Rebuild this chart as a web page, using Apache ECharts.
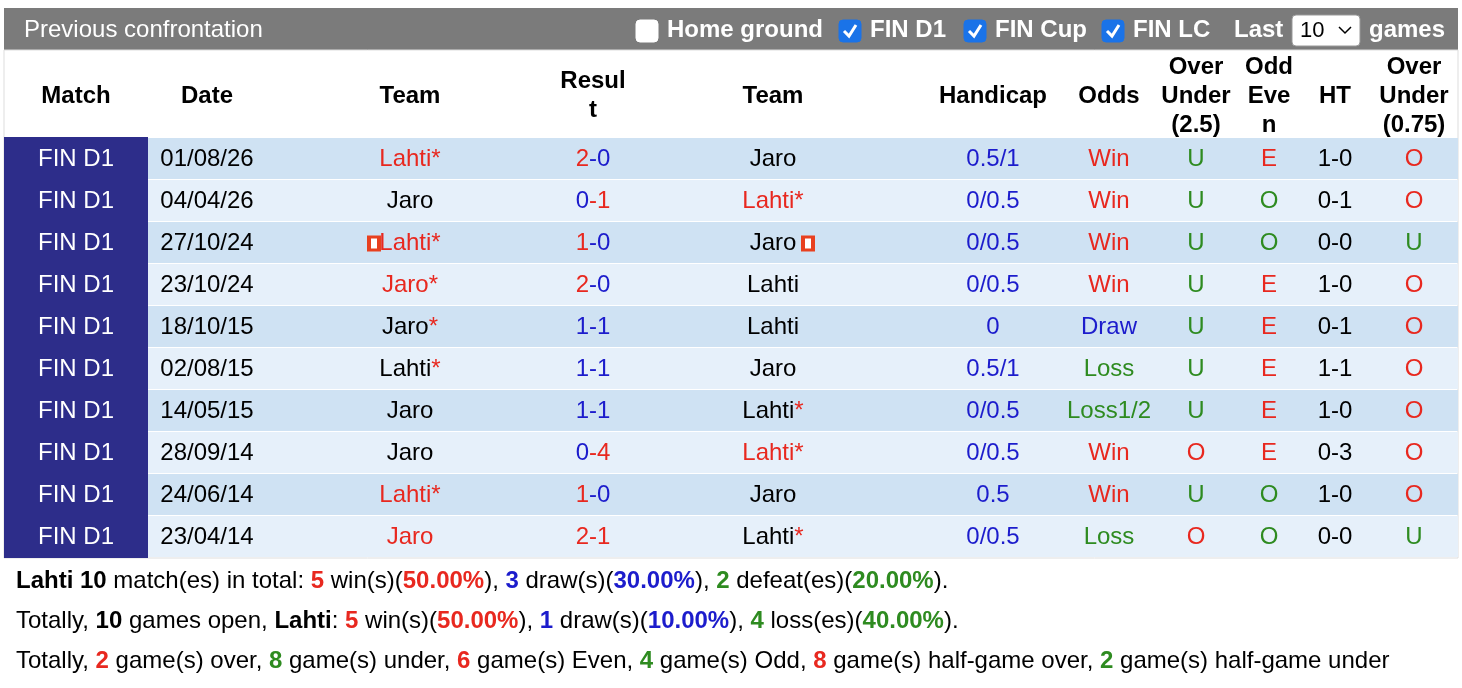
<!DOCTYPE html><html><head><meta charset="utf-8">
<script src="https://cdn.jsdelivr.net/npm/echarts@6/dist/echarts.min.js"></script>
<style>html,body{margin:0;padding:0;background:#fff}#c{width:1462px;height:688px}</style></head><body><div id="c"></div>
<script>
const matchType=['FIN D1','FIN D1','FIN D1','FIN D1','FIN D1','FIN D1','FIN D1','FIN D1','FIN D1','FIN D1'];
const dates=['01/08/26','04/04/26','27/10/24','23/10/24','18/10/15','02/08/15','14/05/15','28/09/14','24/06/14','23/04/14'];
const homeTeams=['Lahti','Jaro','Lahti','Jaro','Jaro','Lahti','Jaro','Jaro','Lahti','Jaro'];
const homeStar=[1,0,1,1,1,1,0,0,1,0];
const homeRed=[1,0,1,1,0,0,0,0,1,1];
const awayTeams=['Jaro','Lahti','Jaro','Lahti','Lahti','Jaro','Lahti','Lahti','Jaro','Lahti'];
const awayStar=[0,1,0,0,0,0,1,1,0,1];
const awayRed=[0,1,0,0,0,0,0,1,0,0];
const flags=[0,0,1,0,0,0,0,0,0,0];
const homeGoals=[2,0,1,2,1,1,1,0,1,2];
const awayGoals=[0,1,0,0,1,1,1,4,0,1];
const goalColors=[['r','b'],['b','r'],['r','b'],['r','b'],['b','b'],['b','b'],['b','b'],['b','r'],['r','b'],['r','r']];
const handicaps=['0.5/1','0/0.5','0/0.5','0/0.5','0','0.5/1','0/0.5','0/0.5','0.5','0/0.5'];
const odds=['Win','Win','Win','Win','Draw','Loss','Loss1/2','Win','Win','Loss'];
const overUnder=['U','U','U','U','U','U','U','O','U','O'];
const oddEven=['E','O','O','E','E','E','E','E','O','O'];
const halfTime=['1-0','0-1','0-0','1-0','0-1','1-1','1-0','0-3','1-0','0-0'];
const overUnder075=['O','O','U','O','O','O','O','O','O','U'];
const headers=['Match','Date','Team','Resul\nt','Team','Handicap','Odds','Over\nUnder\n(2.5)','Odd\nEve\nn','HT','Over\nUnder\n(0.75)'];
const summary1=[['Lahti 10','k',1],[' match(es) in total: ','k',0],['5','r',1],[' win(s)(','k',0],['50.00%','r',1],['), ','k',0],['3','b',1],[' draw(s)(','k',0],['30.00%','b',1],['), ','k',0],['2','g',1],[' defeat(es)(','k',0],['20.00%','g',1],[').','k',0]];
const summary2=[['Totally, ','k',0],['10','k',1],[' games open, ','k',0],['Lahti','k',1],[': ','k',0],['5','r',1],[' win(s)(','k',0],['50.00%','r',1],['), ','k',0],['1','b',1],[' draw(s)(','k',0],['10.00%','b',1],['), ','k',0],['4','g',1],[' loss(es)(','k',0],['40.00%','g',1],[').','k',0]];
const summary3=[['Totally, ','k',0],['2','r',1],[' game(s) over, ','k',0],['8','g',1],[' game(s) under, ','k',0],['6','r',1],[' game(s) Even, ','k',0],['4','g',1],[' game(s) Odd, ','k',0],['8','r',1],[' game(s) half-game over, ','k',0],['2','g',1],[' game(s) half-game under','k',0]];

const C={r:'#e8281f',b:'#1c1ccc',g:'#2e8b20',k:'#000'};
const FONT='"Liberation Sans", Arial, sans-serif';
const FS='24px ';
const colX=[76,207,410,593,773,993,1109,1196,1269,1335,1414];
function rich(){const o={};for(const k in C){o[k]={fill:C[k],font:FS+FONT};o[k+'B']={fill:C[k],font:'bold '+FS+FONT};}return o;}
const R=rich();
function oddsColor(s){return s==='Win'?'r':s==='Draw'?'b':'g';}
function summ(arr){return arr.map(([t,c,b])=>'{'+c+(b?'B':'')+'|'+t+'}').join('');}

const chart=echarts.init(document.getElementById('c'));
const graphic=[
 {type:'rect',shape:{x:4,y:8,width:1454,height:42},style:{fill:'#7b7b7b'}},
 {type:'text',style:{x:24,y:30,text:'Previous confrontation',fill:'#fff',font:FS+FONT,verticalAlign:'middle'}},
 {type:'rect',shape:{x:4,y:50,width:1454,height:508},style:{fill:'none',stroke:'#ddd',lineWidth:1}},
];
const cbs=[[636,'Home ground',false],[839,'FIN D1',true],[964,'FIN Cup',true],[1102,'FIN LC',true]];
cbs.forEach(([x,t,ch])=>{
 graphic.push({type:'rect',shape:{x:x,y:20,width:22,height:22,r:4},style:{fill:ch?'#1a73e8':'#fff',stroke:ch?'#1a73e8':'#fff'}});
 if(ch)graphic.push({type:'polyline',shape:{points:[[x+5,31],[x+10,36],[x+17,25]]},style:{stroke:'#fff',lineWidth:3,fill:'none'}});
 graphic.push({type:'text',style:{x:x+31,y:30,text:t,fill:'#fff',font:'bold '+FS+FONT,verticalAlign:'middle'}});
});
graphic.push({type:'text',style:{x:1234,y:30,text:'Last',fill:'#fff',font:'bold '+FS+FONT,verticalAlign:'middle'}});
graphic.push({type:'rect',shape:{x:1292,y:15,width:68,height:31,r:4},style:{fill:'#fff',stroke:'#999'}});
graphic.push({type:'text',style:{x:1300,y:31,text:'10',fill:'#000',font:'22px '+FONT,verticalAlign:'middle'}});
graphic.push({type:'polyline',shape:{points:[[1339,27],[1345,33],[1351,27]]},style:{stroke:'#000',lineWidth:1.5,fill:'none'}});
graphic.push({type:'text',style:{x:1369,y:30,text:'games',fill:'#fff',font:'bold '+FS+FONT,verticalAlign:'middle'}});
headers.forEach((h,i)=>graphic.push({type:'text',style:{x:colX[i],y:96,text:h,fill:'#000',font:'bold '+FS+FONT,align:'center',verticalAlign:'middle',lineHeight:29}}));
[summary1,summary2,summary3].forEach((s,i)=>graphic.push({type:'text',style:{x:16,y:581+40*i,text:summ(s),rich:R,verticalAlign:'middle'}}));

function flag(x,y){return [{type:'rect',shape:{x:x,y:y-8,width:14,height:16},style:{fill:'#e8401f'}},{type:'rect',shape:{x:x+4,y:y-5,width:6,height:10},style:{fill:'#fff'}}];}

chart.setOption({
 animation:false,
 grid:{left:0,right:0,top:0,bottom:0},
 xAxis:{type:'value',min:0,max:1462,show:false},
 yAxis:{type:'value',min:0,max:688,inverse:true,show:false},
 graphic:graphic,
 series:[{type:'custom',data:dates.map((d,i)=>[i]),renderItem:function(p,api){
  const i=api.value(0);
  const top=api.coord([4,138+42*i]);const bot=api.coord([1458,138+42*i+41]);
  const yc=(top[1]+bot[1])/2+1;
  const X=k=>api.coord([colX[k],0])[0];
  const ch=[];
  ch.push({type:'rect',shape:{x:top[0],y:top[1],width:bot[0]-top[0],height:bot[1]-top[1]},style:{fill:i%2===0?'#cfe2f3':'#e6f0fa'}});
  ch.push({type:'rect',shape:{x:top[0],y:top[1]-1,width:144,height:43},style:{fill:'#2d2d8a'}});
  const T=(k,text,extra)=>ch.push({type:'text',style:Object.assign({x:X(k),y:yc,text:text,align:'center',verticalAlign:'middle',rich:R,font:FS+FONT},extra||{})});
  T(0,matchType[i],{fill:'#fff'});
  T(1,dates[i],{fill:'#000'});
  T(2,'{'+(homeRed[i]?'r':'k')+'|'+homeTeams[i]+'}'+(homeStar[i]?'{r|*}':''));
  const gc=goalColors[i];
  T(3,'{'+gc[0]+'|'+homeGoals[i]+'}{'+gc[1]+'|-'+awayGoals[i]+'}');
  T(4,'{'+(awayRed[i]?'r':'k')+'|'+awayTeams[i]+'}'+(awayStar[i]?'{r|*}':''));
  T(5,handicaps[i],{fill:C.b});
  T(6,odds[i],{fill:C[oddsColor(odds[i])]});
  T(7,overUnder[i],{fill:overUnder[i]==='U'?C.g:C.r});
  T(8,oddEven[i],{fill:oddEven[i]==='E'?C.r:C.g});
  T(9,halfTime[i],{fill:'#000'});
  T(10,overUnder075[i],{fill:overUnder075[i]==='U'?C.g:C.r});
  if(flags[i]){ch.push(...flag(X(2)-43,yc));ch.push(...flag(X(4)+28,yc));}
  return {type:'group',children:ch};
 }}]
});
</script></body></html>
